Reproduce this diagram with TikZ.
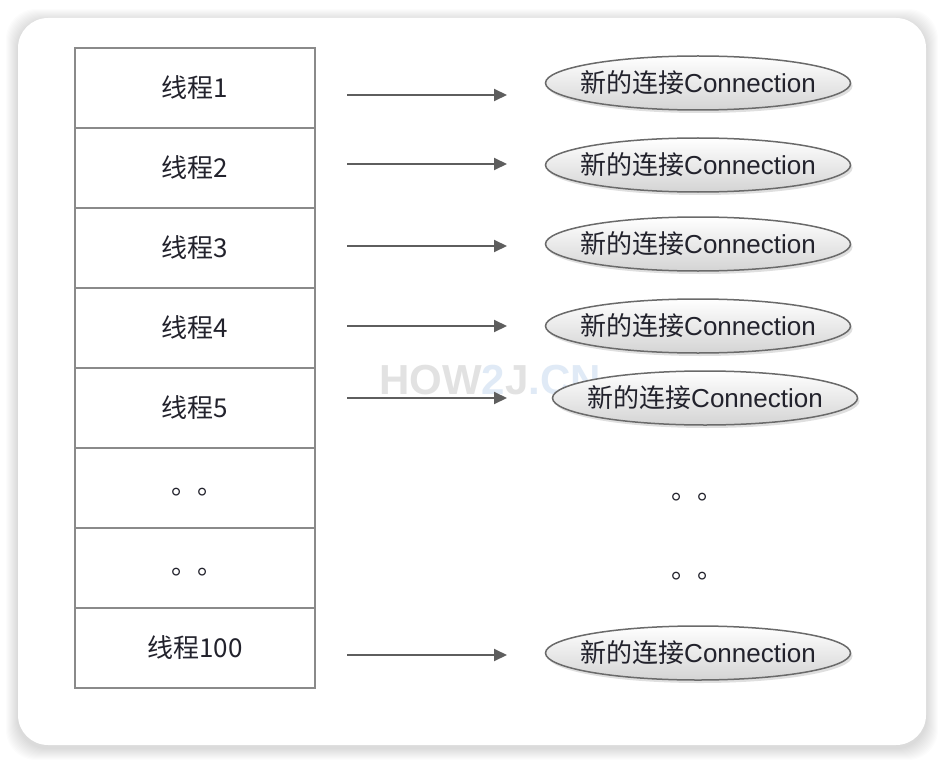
\documentclass[tikz,border=0pt]{standalone}
\usepackage{fontspec}
\setmainfont{Liberation Sans}
\newfontfamily\cjk{Noto Sans CJK SC}
\usetikzlibrary{shapes.geometric,arrows.meta,shadows}
\definecolor{cellgray}{HTML}{8A8A8A}
\definecolor{ellgray}{HTML}{6A6A6A}
\definecolor{ellbottom}{HTML}{D4D4D4}
\definecolor{arrgray}{HTML}{5E5E5E}
\definecolor{textdark}{HTML}{22222C}
\definecolor{wmgray}{HTML}{E2E2E2}
\definecolor{wmblue}{HTML}{E0EAF6}
\begin{document}
\begin{tikzpicture}[x=1pt,y=-1pt,
  cell/.style={draw=cellgray, line width=2pt, minimum width=240pt, minimum height=80pt, inner sep=0pt, font=\cjk\fontsize{26}{30}\selectfont, text=textdark},
  conn/.style={ellipse, draw=ellgray, line width=1.5pt, minimum width=305pt, minimum height=54pt, inner sep=0pt, top color=white, bottom color=ellbottom, drop shadow={shadow xshift=2pt, shadow yshift=-3pt, opacity=0.25}},
  conntext/.style={font=\fontsize{26}{30}\selectfont, text=textdark, inner sep=0pt},
  arr/.style={draw=arrgray, line width=2pt, -{Triangle[length=13pt,width=12pt]}},
  dotstext/.style={font=\cjk\fontsize{26}{30}\selectfont, text=textdark, inner sep=0pt},
  watermark/.style={font=\fontsize{42}{46}\selectfont\bfseries, inner sep=0pt}]
\useasboundingbox (0,0) rectangle (944,762);
\fill[white] (0,0) rectangle (944,762);
% card shadow
\foreach \i in {1,...,12}{
  \fill[black, opacity=0.012, rounded corners=30pt] (18-\i,18-\i+3) rectangle (926+\i,745+\i+3);
}
\fill[white, rounded corners=30pt] (18,18) rectangle (926,745);
% watermark
\node[watermark] (wm) at (490,380) {\textcolor{wmgray}{HOW}\textcolor{wmblue}{2}\textcolor{wmgray}{J}\textcolor{wmblue}{.CN}};
% table
\node[cell] (c1) at (195,88) {线程1};
\node[cell] (c2) at (195,168) {线程2};
\node[cell] (c3) at (195,248) {线程3};
\node[cell] (c4) at (195,328) {线程4};
\node[cell] (c5) at (195,408) {线程5};
\node[cell] (c6) at (195,488) {\hspace*{4pt}\raisebox{-4pt}[\height][\depth]{。。}};
\node[cell] (c7) at (195,568) {\hspace*{4pt}\raisebox{-4pt}[\height][\depth]{。。}};
\node[cell] (c8) at (195,648) {线程100};
% connections
\node[conn] (n1) at (698,83) {};
\node[conn] (n2) at (698,165) {};
\node[conn] (n3) at (698,244) {};
\node[conn] (n4) at (698,326) {};
\node[conn] (n5) at (705,398) {};
\node[conn] (n8) at (698,653) {};
\node[conntext] (t1) at (n1) {{\cjk 新的连接}Connection};
\node[conntext] (t2) at (n2) {{\cjk 新的连接}Connection};
\node[conntext] (t3) at (n3) {{\cjk 新的连接}Connection};
\node[conntext] (t4) at (n4) {{\cjk 新的连接}Connection};
\node[conntext] (t5) at (n5) {{\cjk 新的连接}Connection};
\node[conntext] (t8) at (n8) {{\cjk 新的连接}Connection};
\node[dotstext] (d1) at (697,497) {。。};
\node[dotstext] (d2) at (697,576) {。。};
% arrows
\coordinate (s1) at (347,95);  \coordinate (e1) at (507,95);
\coordinate (s2) at (347,164); \coordinate (e2) at (507,164);
\coordinate (s3) at (347,246); \coordinate (e3) at (507,246);
\coordinate (s4) at (347,326); \coordinate (e4) at (507,326);
\coordinate (s5) at (347,398); \coordinate (e5) at (507,398);
\coordinate (s8) at (347,655); \coordinate (e8) at (507,655);
\draw[arr] (s1) -- (e1);
\draw[arr] (s2) -- (e2);
\draw[arr] (s3) -- (e3);
\draw[arr] (s4) -- (e4);
\draw[arr] (s5) -- (e5);
\draw[arr] (s8) -- (e8);
\end{tikzpicture}
\end{document}
